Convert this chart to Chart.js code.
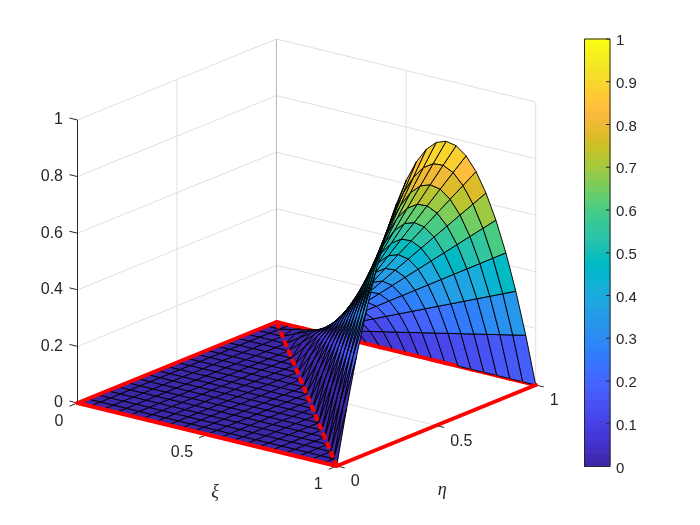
<!DOCTYPE html>
<html><head><meta charset="utf-8">
<script src="https://cdn.jsdelivr.net/npm/chart.js@4/dist/chart.umd.min.js"></script>
<style>html,body{margin:0;padding:0;background:#fff}canvas{display:block}</style></head>
<body><canvas id="c" width="700" height="525"></canvas>
<script>
const xiLevels=[0,.05,.1,.15,.2,.25,.3,.35,.4,.45,.5,.55,.6,.65,.7,.75,.8,.85,.9,.95,1];
const etaLevels=[0,.05,.1,.15,.2,.25,.3,.35,.4,.45,.5,.55,.6,.65,.7,.75,.8,.85,.9,.95,1];
const heightRows=[
[0,0,0,0,0,0,0,0,0,0,0,0,0,0,0,0,0,0,0,0,0],
[0,0,0,0,0,0,0,0,0,0,0,0,0,0,0,0,0,0,0,0,.19],
[0,0,0,0,0,0,0,0,0,0,0,0,0,0,0,0,0,0,0,.18,.36],
[0,0,0,0,0,0,0,0,0,0,0,0,0,0,0,0,0,0,.17,.34,.51],
[0,0,0,0,0,0,0,0,0,0,0,0,0,0,0,0,0,.16,.32,.48,.64],
[0,0,0,0,0,0,0,0,0,0,0,0,0,0,0,0,.15,.3,.45,.6,.75],
[0,0,0,0,0,0,0,0,0,0,0,0,0,0,0,.14,.28,.42,.56,.7,.84],
[0,0,0,0,0,0,0,0,0,0,0,0,0,0,.13,.26,.39,.52,.65,.78,.91],
[0,0,0,0,0,0,0,0,0,0,0,0,0,.12,.24,.36,.48,.6,.72,.84,.96],
[0,0,0,0,0,0,0,0,0,0,0,0,.11,.22,.33,.44,.55,.66,.77,.88,.99],
[0,0,0,0,0,0,0,0,0,0,0,.1,.2,.3,.4,.5,.6,.7,.8,.9,1],
[0,0,0,0,0,0,0,0,0,0,.09,.18,.27,.36,.45,.54,.63,.72,.81,.9,.99],
[0,0,0,0,0,0,0,0,0,.08,.16,.24,.32,.4,.48,.56,.64,.72,.8,.88,.96],
[0,0,0,0,0,0,0,0,.07,.14,.21,.28,.35,.42,.49,.56,.63,.7,.77,.84,.91],
[0,0,0,0,0,0,0,.06,.12,.18,.24,.3,.36,.42,.48,.54,.6,.66,.72,.78,.84],
[0,0,0,0,0,0,.05,.1,.15,.2,.25,.3,.35,.4,.45,.5,.55,.6,.65,.7,.75],
[0,0,0,0,0,.04,.08,.12,.16,.2,.24,.28,.32,.36,.4,.44,.48,.52,.56,.6,.64],
[0,0,0,0,.03,.06,.09,.12,.15,.18,.21,.24,.27,.3,.33,.36,.39,.42,.45,.48,.51],
[0,0,0,.02,.04,.06,.08,.1,.12,.14,.16,.18,.2,.22,.24,.26,.28,.3,.32,.34,.36],
[0,0,.01,.02,.03,.04,.05,.06,.07,.08,.09,.1,.11,.12,.13,.14,.15,.16,.17,.18,.19],
[0,0,0,0,0,0,0,0,0,0,0,0,0,0,0,0,0,0,0,0,0]];
const xiTicks=[0,.5,1], etaTicks=[0,.5,1], zTicks=[0,.2,.4,.6,.8,1], barTicks=[0,.1,.2,.3,.4,.5,.6,.7,.8,.9,1];
const parula=[[.2422,.1504,.6603],[.2504,.165,.7076],[.2578,.1818,.7511],[.2647,.1978,.7952],[.2706,.2147,.8364],[.2751,.2342,.871],[.2783,.2559,.8991],[.2803,.2782,.9221],[.2813,.3006,.9414],[.281,.3228,.9579],[.2795,.3447,.9717],[.276,.3667,.9829],[.2699,.3892,.9906],[.2602,.4123,.9952],[.244,.4358,.9988],[.2206,.4603,.9973],[.1963,.4847,.9892],[.1834,.5074,.9798],[.1786,.5289,.9682],[.1764,.5499,.952],[.1687,.5703,.9359],[.154,.5902,.9218],[.146,.6091,.9079],[.138,.6276,.8973],[.1248,.6459,.8883],[.1113,.6635,.8763],[.0952,.6798,.8598],[.0689,.6948,.8394],[.0297,.7082,.8163],[.0036,.7203,.7917],[.0067,.7312,.766],[.0433,.7411,.7394],[.0964,.75,.712],[.1408,.7584,.6842],[.1717,.767,.6554],[.1938,.7758,.6251],[.2161,.7843,.5923],[.247,.7918,.5567],[.2906,.7973,.5188],[.3406,.8008,.4789],[.3909,.8029,.4354],[.4456,.8024,.3909],[.5044,.7993,.348],[.5616,.7942,.3045],[.6174,.7876,.2612],[.672,.7793,.2227],[.7242,.7698,.191],[.7738,.7598,.1646],[.8203,.7498,.1535],[.8634,.7406,.1596],[.9035,.733,.1774],[.9393,.7288,.21],[.9728,.7298,.2394],[.9956,.7434,.2371],[.997,.7659,.2199],[.9952,.7893,.2028],[.9892,.8136,.1885],[.9786,.8386,.1766],[.9676,.8639,.1643],[.961,.889,.1537],[.9597,.9135,.1423],[.9628,.9373,.1265],[.9691,.9606,.1064],[.9769,.9839,.0805]];

const rgb=c=>`rgb(${Math.round(c[0]*255)},${Math.round(c[1]*255)},${Math.round(c[2]*255)})`;
const colorOf=z=>rgb(parula[Math.max(0,Math.min(63,Math.floor(z*64)))]);
const proj=(xi,eta,z)=>({x:77.5+259.2*xi+199*eta,y:403+63*xi-81*eta-283*z});
const depth=(xi,eta,z)=>199*xi-259*eta+119*z;

const items=[];
function poly(nodes,color,key){const pts=nodes.map(n=>proj(n[0],n[1],n[2]));pts.push(pts[0]);
  items.push({key,ds:{data:pts,fill:'shape',backgroundColor:color,borderColor:'#000',borderWidth:.95,pointRadius:0,showLine:true,tension:0,clip:false}});}
function seg(a,b,color,width,key,dash,cap){
  items.push({key,ds:{data:[proj(...a),proj(...b)],borderColor:color,borderWidth:width,pointRadius:0,showLine:true,tension:0,clip:false,fill:false,borderDash:dash||[],borderCapStyle:cap||'butt'}});}

const nodeOf=(i,j)=>[xiLevels[i],etaLevels[j],heightRows[j][i]];
const flat=[],surf=[];
for(let j=0;j<etaLevels.length-1;j++)for(let i=0;i<xiLevels.length-1;i++){
  const q=[nodeOf(i,j),nodeOf(i+1,j),nodeOf(i+1,j+1),nodeOf(i,j+1)];
  const c=[0,1,2].map(k=>(q[0][k]+q[1][k]+q[2][k]+q[3][k])/4);
  const cell={q,color:colorOf(q[0][2]),key:depth(c[0],c[1],c[2])};
  (q.every(p=>p[2]===0)?flat:surf).push(cell);
}
flat.sort((p,q)=>p.key-q.key);
const ordered=[];
const add=fn=>{items.length=0;fn();ordered.push(...items);};
add(()=>{const L='#dfdfdf',D='#b9b9b9';
  zTicks.forEach(z=>{seg([0,0,z],[0,1,z],L,1);seg([0,1,z],[1,1,z],L,1);});
  seg([0,.5,0],[0,.5,1],L,1);seg([.5,1,0],[.5,1,1],L,1);seg([1,1,0],[1,1,1],L,1);
  seg([.5,0,0],[.5,1,0],L,1);seg([0,.5,0],[1,.5,0],L,1);
  seg([0,1,0],[0,1,1],D,1);
  seg([0,0,0],[0,0,1],'#262626',1);
  seg([0,0,0],[1,0,0],'#262626',1);seg([1,0,0],[1,1,0],'#262626',1);
  zTicks.forEach(z=>seg([0,0,z],[-.031,0,z],'#262626',1));
  xiTicks.forEach(x=>seg([x,0,0],[x,-.04,0],'#262626',1));
  etaTicks.forEach(e=>seg([1,e,0],[1.031,e,0],'#262626',1));
});
add(()=>{flat.forEach(c=>poly(c.q,c.color,0));});
add(()=>{
  seg([0,0,0],[0,1,0],'#ff0000',4,0,null,'round');
  const parts=[];
  surf.forEach(s=>parts.push({t:'q',s,key:s.key}));
  for(let j=0;j<xiLevels.length-1;j++){const a=xiLevels[j],b=xiLevels[j+1];
    parts.push({t:'r',a,b,key:depth((a+b)/2,1,0)+14});}
  parts.sort((p,q)=>p.key-q.key);
  parts.forEach(p=>{ if(p.t==='q')poly(p.s.q,p.s.color,p.key); else seg([p.a,1,0],[p.b,1,0],'#ff0000',4,p.key,null,'round');});
});
add(()=>{
  seg([0,0,0],[1,0,0],'#ff0000',4,0,null,'round');
  seg([1,0,0],[1,1,0],'#ff0000',4,0,null,'round');
  seg([0,1,0],[1,0,0],'#ff0000',4,0,[7,3]);
});
const barDs=[];
parula.forEach((c,k)=>barDs.push({yAxisID:'bar',data:[{x:584.5,y:k/64},{x:610,y:k/64},{x:610,y:(k+1)/64},{x:584.5,y:(k+1)/64},{x:584.5,y:k/64}],fill:'shape',backgroundColor:rgb(c),borderColor:rgb(c),borderWidth:1,pointRadius:0,showLine:true,tension:0,clip:false}));
barDs.push({yAxisID:'bar',data:[{x:584.5,y:0},{x:610,y:0},{x:610,y:1},{x:584.5,y:1},{x:584.5,y:0}],fill:false,borderColor:'#262626',borderWidth:1,pointRadius:0,showLine:true,tension:0,clip:false});
barTicks.forEach(v=>barDs.push({yAxisID:'bar',data:[{x:606,y:v},{x:610,y:v}],fill:false,borderColor:'#262626',borderWidth:1,pointRadius:0,showLine:true,tension:0,clip:false}));
const all=[...ordered.map(o=>o.ds),...barDs].reverse();

const zeroPad=s=>{s.paddingTop=0;s.paddingBottom=0;s.paddingLeft=0;s.paddingRight=0;};
const textFont='"Liberation Sans", Arial, sans-serif';
const labels={id:'labels3d',afterDraw(ch){
  const c=ch.ctx,X=ch.scales.x,Y=ch.scales.y;
  const put=(t,p,font,al)=>{c.font=font;c.textAlign=al||'center';c.textBaseline='middle';c.fillStyle='#262626';c.fillText(t,X.getPixelForValue(p.x),Y.getPixelForValue(p.y));};
  c.save();
  const f='16px '+textFont;
  xiTicks.forEach(v=>{const p=proj(v,0,0);put(String(v),{x:p.x-14,y:p.y+18.5},f,'right');});
  etaTicks.forEach(v=>{const p=proj(1,v,0);put(String(v),{x:p.x+14,y:p.y+16},f,'left');});
  const pm=proj(.5,0,0);put('ξ',{x:pm.x+8,y:pm.y+58},'italic 18px "Liberation Serif", serif');
  const pe=proj(1,.5,0);put('η',{x:pe.x+6,y:pe.y+65},'italic 18px "Liberation Serif", serif');
  c.restore();
}};
new Chart(document.getElementById('c'),{type:'scatter',data:{datasets:all},plugins:[labels],options:{
  responsive:false,animation:false,events:[],layout:{padding:0},
  plugins:{legend:{display:false},tooltip:{enabled:false},title:{display:false}},
  scales:{
    x:{type:'linear',min:0,max:610,display:false},
    y:{type:'linear',min:0,max:525,reverse:true,display:false},
    zAxis:{axis:'y',type:'linear',position:{x:63},min:(403-525)/283,max:403/283,
      afterBuildTicks:s=>{s.ticks=zTicks.map(v=>({value:v}));},afterFit:zeroPad,
      grid:{display:false,drawTicks:false},border:{display:false},
      ticks:{autoSkip:false,font:{family:textFont,size:16},color:'#262626',callback:v=>String(v)}},
    bar:{axis:'y',type:'linear',position:'right',min:(466.5-525)/427.5,max:466.5/427.5,
      afterBuildTicks:s=>{s.ticks=barTicks.map(v=>({value:v}));},afterFit:s=>{zeroPad(s);s.width=0;},
      grid:{display:false,drawTicks:false},border:{display:false},
      ticks:{display:false}},
    barText:{axis:'y',type:'linear',position:'right',min:(468.5-525)/427.5,max:468.5/427.5,
      afterBuildTicks:s=>{s.ticks=barTicks.map(v=>({value:v}));},afterFit:s=>{zeroPad(s);s.width=90;},
      grid:{display:false,drawTicks:false},border:{display:false},
      ticks:{padding:6,autoSkip:false,font:{family:textFont,size:15},color:'#262626',callback:v=>String(Math.round(v*10)/10)}}
  }}});
</script></body></html>
